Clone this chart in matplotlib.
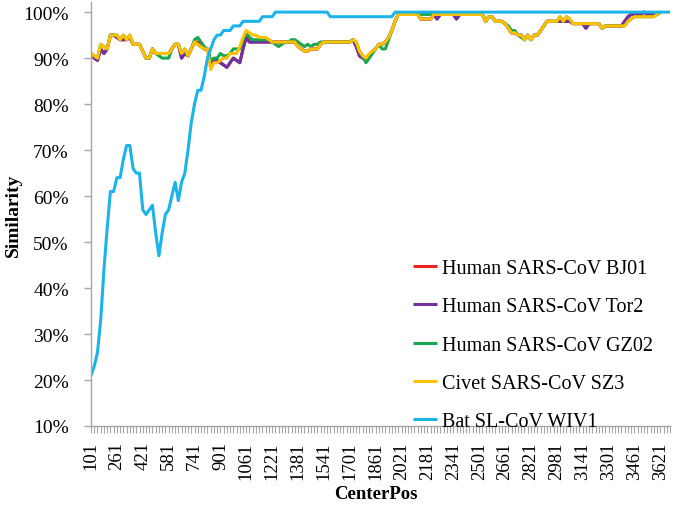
import matplotlib
matplotlib.use("Agg")
import matplotlib.pyplot as plt
from matplotlib.ticker import FixedLocator, FuncFormatter

plt.rcParams['font.family'] = ['Liberation Serif', 'DejaVu Serif']

# categories: window centre positions
center_pos = list(range(101, 3682, 20))          # 180 windows
label_step = 8

bat_wiv1 = [21, 23, 26, 33, 44, 53, 61, 61, 64, 64,
            68, 71, 71, 66, 65, 65, 57, 56, 57, 58,
            52, 47, 52, 56, 57, 60, 63, 59, 63, 65,
            70, 76, 80, 83, 83, 86, 90, 92, 94, 95,
            95, 96, 96, 96, 97, 97, 97, 98, 98, 98,
            98, 98, 98, 99, 99, 99, 99, 100, 100, 100,
            100, 100, 100, 100, 100, 100, 100, 100, 100, 100,
            100, 100, 100, 100, 99, 99, 99, 99, 99, 99,
            99, 99, 99, 99, 99, 99, 99, 99, 99, 99,
            99, 99, 99, 99, 100, 100, 100, 100, 100, 100,
            100, 100, 100, 100, 100, 100, 100, 100, 100, 100,
            100, 100, 100, 100, 100, 100, 100, 100, 100, 100,
            100, 100, 100, 100, 100, 100, 100, 100, 100, 100,
            100, 100, 100, 100, 100, 100, 100, 100, 100, 100,
            100, 100, 100, 100, 100, 100, 100, 100, 100, 100,
            100, 100, 100, 100, 100, 100, 100, 100, 100, 100,
            100, 100, 100, 100, 100, 100, 100, 100, 100, 100,
            100, 100, 100, 100, 100, 100, 100, 100, 100, 100]

civet_sz3 = [91, 90.5, 90, 93, 92.5, 92, 95, 95, 95, 94,
             95, 94, 95, 93, 93, 93, 91.5, 90, 90, 92,
             91, 91, 91, 91, 91, 92, 93, 93, 91, 92,
             90.5, 92, 93.5, 93, 92.5, 92, 92, 87.5, 89, 89,
             89.5, 90, 90, 91, 91, 91, 92.5, 94.5, 96, 95.5,
             95, 95, 94.5, 94.5, 94.5, 94, 93.5, 93.5, 93.5, 93.5,
             93.5, 93.5, 93.5, 93.5, 92.5, 92, 91.5, 91.5, 92, 92,
             92, 93, 93.5, 93.5, 93.5, 93.5, 93.5, 93.5, 93.5, 93.5,
             93.5, 94, 93.5, 91.5, 90.5, 90, 91, 91.5, 92, 93,
             93, 93.5, 94.5, 96, 98, 99.5, 99.5, 99.5, 99.5, 99.5,
             99.5, 99.5, 98.5, 98.5, 98.5, 98.5, 99.5, 99.5, 99.5, 99.5,
             99.5, 99.5, 99.5, 99.5, 99.5, 99.5, 99.5, 99.5, 99.5, 99.5,
             99.5, 99.5, 98, 99, 99, 98, 98, 98, 97.5, 96.5,
             95.5, 95.5, 95, 95, 94, 95, 94, 95, 95, 96,
             97, 98, 98, 98, 98, 99, 98, 99, 98.5, 97.5,
             97.5, 97.5, 97.5, 97.5, 97.5, 97.5, 97.5, 97.5, 96.5, 97,
             97, 97, 97, 97, 97, 97, 98, 98.5, 99, 99,
             99, 99, 99, 99, 99, 99.5, 100]

human_gz02 = [91, 90.5, 90, 93, 92.5, 92, 95, 95, 95, 94,
              95, 94, 95, 93, 93, 93, 91.5, 90, 90, 92,
              91, 90.5, 90, 90, 90, 92, 93, 93, 91, 92,
              90.5, 92, 94, 94.5, 93.5, 92.5, 92, 89.5, 90, 90,
              91, 90.5, 90.5, 91, 92, 92, 92, 94, 95.5, 94.5,
              94, 94, 94, 94, 94, 94, 93.5, 93, 92.5, 93,
              93.5, 93.5, 94, 94, 93.5, 93, 92.5, 93, 92.5, 93,
              93, 93.5, 93.5, 93.5, 93.5, 93.5, 93.5, 93.5, 93.5, 93.5,
              93.5, 94, 93.5, 91.5, 90.5, 89, 90, 91, 92, 93,
              92, 92, 94, 96, 98, 99.5, 99.5, 99.5, 99.5, 99.5,
              99.5, 99.5, 99.5, 99.5, 99.5, 99.5, 99.5, 99.5, 99.5, 99.5,
              99.5, 99.5, 99.5, 99.5, 99.5, 99.5, 99.5, 99.5, 99.5, 99.5,
              99.5, 99.5, 98, 99, 99, 98, 98, 98, 97.5, 97,
              96, 96, 95, 94.5, 94, 95, 94, 95, 95, 96,
              97, 98, 98, 98, 98, 99, 98, 99, 98.5, 97.5,
              97.5, 97.5, 97.5, 97.5, 97.5, 97.5, 97.5, 97.5, 96.5, 97,
              97, 97, 97, 97, 97, 97, 98, 98.5, 99, 99,
              99, 99, 99, 99, 99, 99.5, 100]

human_tor2 = [91, 90, 89.5, 92, 91, 92, 95, 95, 94.5, 94,
              94, 94, 94.5, 93, 93, 93, 91.5, 90, 90, 92,
              91, 91, 91, 91, 91, 92, 93, 93, 90, 91,
              90.5, 92, 93.5, 93, 92.5, 92, 92, 89, 89.5, 89.5,
              89, 88.5, 88, 89, 90, 89.5, 89, 92, 94.5, 93.5,
              93.5, 93.5, 93.5, 93.5, 93.5, 93.5, 93.5, 93.5, 93.5, 93.5,
              93.5, 93.5, 93.5, 93.5, 92.5, 92, 91.5, 91.5, 92, 92,
              92, 93, 93.5, 93.5, 93.5, 93.5, 93.5, 93.5, 93.5, 93.5,
              93.5, 94, 92.5, 90.5, 90, 89.5, 90.5, 91.5, 92, 93,
              93, 93.5, 94.5, 96, 98, 99.5, 99.5, 99.5, 99.5, 99.5,
              99.5, 99.5, 98.5, 98.5, 98.5, 98.5, 99.5, 98.5, 99.5, 99.5,
              99.5, 99.5, 99.5, 98.5, 99.5, 99.5, 99.5, 99.5, 99.5, 99.5,
              99.5, 99.5, 98, 99, 99, 98, 98, 98, 97.5, 96.5,
              95.5, 95.5, 95, 95, 94, 95, 94, 95, 95, 96,
              97, 98, 98, 98, 98, 98, 98, 98, 98, 97.5,
              97.5, 97.5, 97.5, 96.5, 97.5, 97.5, 97.5, 97.5, 96.5, 97,
              97, 97, 97, 97, 97, 98, 99, 99.5, 99.5, 99.5,
              99.5, 100, 99.5, 99.5, 99.5, 99.5, 100]

human_bj01 = [91, 90, 89.5, 92, 91, 92, 95, 95, 94.5, 94,
              94, 94, 94.5, 93, 93, 93, 91.5, 90, 90, 92,
              91, 91, 91, 91, 91, 92, 93, 93, 90, 91,
              90.5, 92, 93.5, 93.5, 93, 92, 92, 89, 89.5, 89.5,
              89, 88.5, 88, 89, 90, 89.5, 89, 92, 94.5, 93.5,
              93.5, 93.5, 93.5, 93.5, 93.5, 93.5, 93.5, 93.5, 93.5, 93.5,
              93.5, 93.5, 93.5, 93.5, 92.5, 92, 91.5, 91.5, 92, 92,
              92, 93, 93.5, 93.5, 93.5, 93.5, 93.5, 93.5, 93.5, 93.5,
              93.5, 94, 92.5, 90.5, 90, 89.5, 90.5, 91.5, 92, 93,
              93, 93.5, 94.5, 96, 98, 99.5, 99.5, 99.5, 99.5, 99.5,
              99.5, 99.5, 98.5, 98.5, 98.5, 98.5, 99.5, 98.5, 99.5, 99.5,
              99.5, 99.5, 99.5, 98.5, 99.5, 99.5, 99.5, 99.5, 99.5, 99.5,
              99.5, 99.5, 98, 99, 99, 98, 98, 98, 97.5, 96.5,
              95.5, 95.5, 95, 95, 94, 95, 94, 95, 95, 96,
              97, 98, 98, 98, 98, 98, 98, 98, 98, 97.5,
              97.5, 97.5, 97.5, 96.5, 97.5, 97.5, 97.5, 97.5, 96.5, 97,
              97, 97, 97, 97, 97, 98, 99, 99.5, 99.5, 99.5,
              99.5, 100, 99.5, 99.5, 99.5, 99.5, 100]

series = [
    ("Human SARS-CoV BJ01", human_bj01, "#E8251F"),
    ("Human SARS-CoV Tor2", human_tor2, "#7030A0"),
    ("Human SARS-CoV GZ02", human_gz02, "#1AA64E"),
    ("Civet SARS-CoV SZ3", civet_sz3, "#FFC000"),
    ("Bat SL-CoV WIV1", bat_wiv1, "#1CB4E8"),
]

fig = plt.figure(figsize=(6.8, 5.06), dpi=100)
ax = fig.add_axes([91/680, (506-427)/506, (670-91)/680, (427-3)/506])

for name, vals, col in series:
    ax.plot(range(len(vals)), vals, color=col, lw=2.2, label=name,
            solid_joinstyle='round', solid_capstyle='butt')

ax.set_xlim(0, len(center_pos) - 1)
ax.set_ylim(10, 102.2)

ax.yaxis.set_major_locator(FixedLocator(list(range(10, 101, 10))))
ax.yaxis.set_major_formatter(FuncFormatter(lambda v, p: f"{int(round(v))}%"))

major_idx = list(range(0, len(center_pos), label_step))
ax.xaxis.set_major_locator(FixedLocator(major_idx))
ax.set_xticklabels([str(center_pos[i]) for i in major_idx], rotation=90)
ax.xaxis.set_minor_locator(FixedLocator(list(range(len(center_pos)))))

for s in ['top', 'right']:
    ax.spines[s].set_visible(False)
for s in ['left', 'bottom']:
    ax.spines[s].set_color('#A6A6A6')
    ax.spines[s].set_linewidth(1.0)

ax.tick_params(axis='y', which='major', direction='out', length=5, width=1,
               color='#A6A6A6', labelsize=14, pad=11, labelcolor='black')
ax.tick_params(axis='x', which='both', direction='out', length=5, width=0.8,
               color='#A6A6A6', labelsize=13.5, pad=6, labelcolor='black')

ax.set_ylabel("Similarity", fontsize=14, fontweight='bold')
ax.yaxis.set_label_coords((13 - 91) / 579, 0.5)
ax.set_xlabel("CenterPos", fontsize=13.5, fontweight='bold')
ax.xaxis.set_label_coords((376 - 91) / 579, (427 - 495) / 424)
ax.xaxis.label.set_va('center')
ax.yaxis.label.set_va('center')

leg = ax.legend(loc='center left', bbox_to_anchor=(413/680, (506-346)/506),
                bbox_transform=fig.transFigure, frameon=False, fontsize=14.5,
                handlelength=1.2, handletextpad=0.25, labelspacing=0.95,
                borderpad=0, borderaxespad=0)

fig.savefig("out.png", dpi=100)
